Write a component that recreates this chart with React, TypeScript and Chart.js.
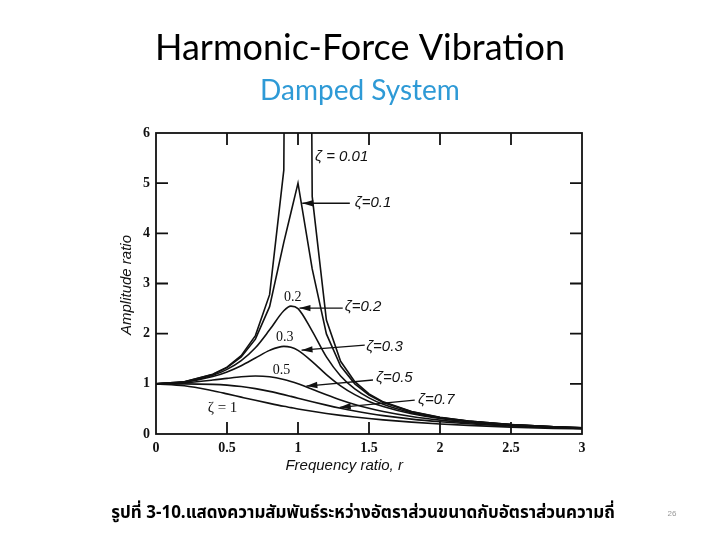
import React, { useEffect, useRef } from "react";
import { Chart, registerables } from "chart.js";

Chart.register(...registerables);

// ---- data ----
const FREQ_RATIO = [0, 0.2, 0.4, 0.5, 0.6, 0.7, 0.8, 0.9, 0.95, 1.0, 1.1, 1.2, 1.3, 1.4, 1.5, 1.6, 1.8, 2.0, 2.2, 2.5, 2.8, 3.0];
const AMP_Z001 = [1, 1.042, 1.19, 1.333, 1.563, 1.961, 2.778, 5.26, 27.6, 50, 4.735, 2.27, 1.449, 1.042, 0.8, 0.641, 0.446, 0.333, 0.26, 0.19, 0.146, 0.125];
const AMP_Z01 = [1, 1.041, 1.185, 1.322, 1.536, 1.891, 2.538, 3.82, 4.41, 5.0, 3.29, 1.995, 1.356, 1.0, 0.778, 0.628, 0.441, 0.33, 0.259, 0.19, 0.146, 0.125];
const AMP_Z02 = [1, 1.038, 1.169, 1.288, 1.463, 1.719, 2.076, 2.457, 2.549, 2.5, 2.051, 1.536, 1.157, 0.9, 0.721, 0.593, 0.425, 0.322, 0.254, 0.187, 0.144, 0.124];
const AMP_Z03 = [1, 1.034, 1.145, 1.238, 1.362, 1.514, 1.667, 1.747, 1.729, 1.667, 1.444, 1.185, 0.96, 0.784, 0.649, 0.546, 0.402, 0.31, 0.246, 0.183, 0.142, 0.122];
const AMP_Z05 = [1, 1.02, 1.075, 1.109, 1.14, 1.155, 1.14, 1.087, 1.047, 1.0, 0.893, 0.782, 0.679, 0.589, 0.512, 0.448, 0.348, 0.277, 0.226, 0.172, 0.135, 0.117];
const AMP_Z07 = [1, 1.0, 0.99, 0.975, 0.947, 0.905, 0.85, 0.785, 0.75, 0.714, 0.643, 0.576, 0.514, 0.458, 0.409, 0.366, 0.297, 0.244, 0.203, 0.158, 0.127, 0.111];
const AMP_Z1 = [1, 0.962, 0.862, 0.8, 0.735, 0.671, 0.61, 0.552, 0.526, 0.5, 0.452, 0.41, 0.372, 0.338, 0.308, 0.281, 0.236, 0.2, 0.171, 0.138, 0.113, 0.1];

const X_TICK_LABELS = ["0", "0.5", "1", "1.5", "2", "2.5", "3"];
const Y_TICK_LABELS = ["0", "1", "2", "3", "4", "5", "6"];

const TITLE = "Harmonic-Force Vibration";
const SUBTITLE = "Damped System";
const X_TITLE = "Frequency ratio, r";
const Y_TITLE = "Amplitude ratio";
const CAPTION = "รูปที่ 3-10.แสดงความสัมพันธ์ระหว่างอัตราส่วนขนาดกับอัตราส่วนความถี่";
const PAGE_NO = "26";

// curve labels: [text, r, amplitude, style]
const CURVE_LABELS: [string, number, number, string][] = [
  ["ζ = 0.01", 1.12, 5.52, "sans"],
  ["ζ=0.1", 1.4, 4.6, "sans"],
  ["0.2", 0.963, 2.73, "serif"],
  ["ζ=0.2", 1.33, 2.53, "sans"],
  ["0.3", 0.907, 1.93, "serif"],
  ["ζ=0.3", 1.48, 1.74, "sans"],
  ["0.5", 0.883, 1.26, "serif"],
  ["ζ=0.5", 1.55, 1.12, "sans"],
  ["ζ=0.7", 1.845, 0.68, "sans"],
  ["ζ = 1", 0.364, 0.52, "serifl"],
];
// arrows: [fromR, fromA, toR, toA]
const ARROWS: [number, number, number, number][] = [
  [1.365, 4.6, 1.03, 4.6],
  [1.315, 2.51, 1.01, 2.51],
  [1.47, 1.77, 1.025, 1.67],
  [1.528, 1.076, 1.059, 0.956],
  [1.822, 0.677, 1.294, 0.532],
];

const SERIES: { z: string; amp: number[]; straight: boolean }[] = [
  { z: "0.01", amp: AMP_Z001, straight: true },
  { z: "0.1", amp: AMP_Z01, straight: true },
  { z: "0.2", amp: AMP_Z02, straight: false },
  { z: "0.3", amp: AMP_Z03, straight: false },
  { z: "0.5", amp: AMP_Z05, straight: false },
  { z: "0.7", amp: AMP_Z07, straight: false },
  { z: "1", amp: AMP_Z1, straight: false },
];

const decor = {
  id: "decor",
  beforeDraw(chart: any) {
    const ctx = chart.ctx;
    ctx.save();
    ctx.fillStyle = "#ffffff";
    ctx.fillRect(0, 0, chart.width, chart.height);
    ctx.restore();
  },
  afterDraw(chart: any) {
    const ctx = chart.ctx;
    const ca = chart.chartArea;
    const xs = chart.scales.x;
    const ys = chart.scales.y;
    ctx.save();
    // slide titles
    ctx.textAlign = "center";
    ctx.textBaseline = "middle";
    ctx.fillStyle = "#000";
    ctx.font = '36px Lato, "Open Sans", sans-serif';
    ctx.fillText(TITLE, 360, 48);
    ctx.fillStyle = "#2e9ad6";
    ctx.font = '28px Lato, "Open Sans", sans-serif';
    ctx.fillText(SUBTITLE, 360, 91);

    // box
    ctx.strokeStyle = "#111";
    ctx.lineWidth = 1.8;
    ctx.strokeRect(ca.left, ca.top, ca.right - ca.left, ca.bottom - ca.top);
    // inward ticks
    const tl = 12;
    ctx.beginPath();
    xs.ticks.forEach((t: any) => {
      if (t.value <= xs.min || t.value >= xs.max) return;
      const px = xs.getPixelForValue(t.value);
      ctx.moveTo(px, ca.top);
      ctx.lineTo(px, ca.top + tl);
      ctx.moveTo(px, ca.bottom);
      ctx.lineTo(px, ca.bottom - tl);
    });
    ys.ticks.forEach((t: any) => {
      if (t.value <= ys.min || t.value >= ys.max) return;
      const py = ys.getPixelForValue(t.value);
      ctx.moveTo(ca.left, py);
      ctx.lineTo(ca.left + tl, py);
      ctx.moveTo(ca.right, py);
      ctx.lineTo(ca.right - tl, py);
    });
    ctx.stroke();

    // axis titles
    ctx.fillStyle = "#111";
    ctx.font = 'italic 15px "Liberation Sans", Arial, sans-serif';
    ctx.textAlign = "center";
    ctx.textBaseline = "middle";
    ctx.fillText(X_TITLE, xs.getPixelForValue(1.325), ca.bottom + 32);
    ctx.save();
    ctx.translate(ca.left - 29, ys.getPixelForValue(2.97));
    ctx.rotate(-Math.PI / 2);
    ctx.fillText(Y_TITLE, 0, 0);
    ctx.restore();

    // curve labels
    CURVE_LABELS.forEach(([text, r, a, style]) => {
      const px = xs.getPixelForValue(r);
      const py = ys.getPixelForValue(a);
      if (style === "sans") {
        ctx.font = 'italic 15px "Liberation Sans", Arial, sans-serif';
        ctx.textAlign = "left";
      } else if (style === "serif") {
        ctx.font = '14px "Liberation Serif", "Times New Roman", serif';
        ctx.textAlign = "center";
      } else {
        ctx.font = '15px "Liberation Serif", "Times New Roman", serif';
        ctx.textAlign = "left";
      }
      ctx.textBaseline = "middle";
      ctx.fillText(text, px, py);
    });

    // arrows
    ctx.lineWidth = 1.3;
    ARROWS.forEach(([r0, a0, r1, a1]) => {
      const x0 = xs.getPixelForValue(r0);
      const y0 = ys.getPixelForValue(a0);
      const x1 = xs.getPixelForValue(r1);
      const y1 = ys.getPixelForValue(a1);
      ctx.beginPath();
      ctx.moveTo(x0, y0);
      ctx.lineTo(x1, y1);
      ctx.stroke();
      const ang = Math.atan2(y1 - y0, x1 - x0);
      const L = 11;
      const W = 3.2;
      ctx.beginPath();
      ctx.moveTo(x1, y1);
      ctx.lineTo(x1 - L * Math.cos(ang) - W * Math.sin(ang), y1 - L * Math.sin(ang) + W * Math.cos(ang));
      ctx.lineTo(x1 - L * Math.cos(ang) + W * Math.sin(ang), y1 - L * Math.sin(ang) - W * Math.cos(ang));
      ctx.closePath();
      ctx.fill();
    });

    // caption and page number
    ctx.fillStyle = "#000";
    ctx.font = 'bold 17px Tahoma, "Noto Sans Thai", "Noto Sans", "DejaVu Sans", sans-serif';
    ctx.textAlign = "center";
    ctx.textBaseline = "middle";
    ctx.fillText(CAPTION, 363, 515);
    ctx.fillStyle = "#999";
    ctx.font = '8px "Liberation Sans", Arial, sans-serif';
    ctx.fillText(PAGE_NO, 672, 514);
    ctx.restore();
  },
};

export default function App() {
  const ref = useRef<HTMLCanvasElement | null>(null);
  useEffect(() => {
    if (!ref.current) return;
    const chart = new Chart(ref.current, {
      type: "line",
      data: {
        datasets: SERIES.map((s) => ({
          label: "ζ=" + s.z,
          data: FREQ_RATIO.map((r, i) => ({ x: r, y: s.amp[i] })),
          borderColor: "#111",
          borderWidth: 1.6,
          pointRadius: 0,
          fill: false,
          tension: 0,
          cubicInterpolationMode: s.straight ? "default" : "monotone",
        })),
      },
      options: {
        animation: false,
        responsive: false,
        devicePixelRatio: 1,
        layout: { padding: { left: 116, right: 138, top: 133, bottom: 76 } },
        plugins: { legend: { display: false }, tooltip: { enabled: false }, title: { display: false } },
        scales: {
          x: {
            type: "linear",
            min: 0,
            max: 3,
            afterFit: (s: any) => {
              s.height = 30;
            },
            grid: { display: false, drawTicks: false },
            border: { display: false },
            ticks: {
              stepSize: 0.5,
              padding: 6,
              color: "#111",
              font: { family: '"Liberation Serif", "Times New Roman", serif', size: 14, weight: "bold" },
              callback: (_v: any, i: number) => X_TICK_LABELS[i],
              maxRotation: 0,
            },
          },
          y: {
            type: "linear",
            min: 0,
            max: 6,
            afterFit: (s: any) => {
              s.width = 40;
            },
            grid: { display: false, drawTicks: false },
            border: { display: false },
            ticks: {
              stepSize: 1,
              padding: 6,
              color: "#111",
              font: { family: '"Liberation Serif", "Times New Roman", serif', size: 14, weight: "bold" },
              callback: (_v: any, i: number) => Y_TICK_LABELS[i],
            },
          },
        },
      },
      plugins: [decor],
    } as any);
    return () => chart.destroy();
  }, []);
  return (
    <div style={{ position: "absolute", left: 0, top: 0, width: 720, height: 540 }}>
      <canvas ref={ref} width={720} height={540} style={{ width: 720, height: 540, display: "block" }} />
    </div>
  );
}
